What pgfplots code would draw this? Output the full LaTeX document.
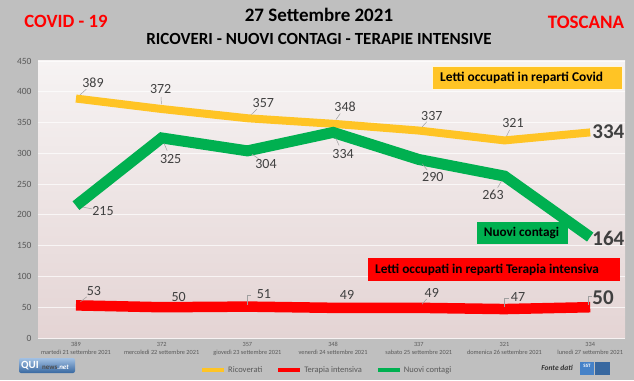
\documentclass[border=0pt]{standalone}
\usepackage{fontspec}
\setmainfont{Carlito}
\usepackage{pgfplots}
\pgfplotsset{compat=1.18}
\definecolor{bg}{RGB}{191,191,191}
\definecolor{cyel}{RGB}{255,196,37}
\definecolor{cred}{RGB}{255,0,0}
\definecolor{cgreen}{RGB}{0,176,80}
\definecolor{ctxt}{RGB}{64,64,64}
\definecolor{ctick}{RGB}{89,89,89}
\definecolor{bgtop}{RGB}{246,243,243}
\definecolor{bgmid}{RGB}{220,200,200}
\definecolor{bgbot}{RGB}{228,212,212}
\definecolor{qblue}{RGB}{70,130,200}
\begin{document}
\begin{tikzpicture}[x=1pt,y=1pt,
  lbl/.style={font=\fontsize{14}{16}\selectfont, text=ctxt, inner sep=0pt},
  blbl/.style={font=\bfseries\fontsize{21}{24}\selectfont, text=ctxt, inner sep=0pt, anchor=west},
  ld/.style={draw=gray!75, line width=0.5pt}]
\fill[bg] (0,0) rectangle (634,380);
\useasboundingbox (0,0) rectangle (634,380);
\begin{axis}[
  at={(38pt,42pt)}, anchor=south west,
  scale only axis, width=587pt, height=277pt,
  xmin=-0.443, xmax=6.406, ymin=0, ymax=450,
  axis line style={draw=none},
  axis background/.style={top color=bgtop, middle color=bgmid, bottom color=bgbot},
  ymajorgrids, major grid style={white, line width=0.8pt, opacity=0.7},
  major tick length=0pt,
  ytick={0,50,...,450},
  /pgf/number format/assume math mode=true,
  yticklabel style={font=\fontsize{9.5}{11}\selectfont, text=ctick, xshift=-3pt},
  xtick={0,...,6},
  xticklabels={{389\\martedì 21 settembre 2021},{372\\mercoledì 22 settembre 2021},{357\\giovedì 23 settembre 2021},{348\\venerdì 24 settembre 2021},{337\\sabato 25 settembre 2021},{321\\domenica 26 settembre 2021},{334\\lunedì 27 settembre 2021}},
  xticklabel style={font=\fontsize{6.3}{8}\selectfont, text=ctick, align=center, yshift=-1pt},
  legend columns=3,
  legend style={at={(axis description cs:0.276,-0.1155)}, anchor=west, draw=none, fill=none, inner sep=0pt,
    font=\fontsize{8.5}{10}\selectfont, text=ctick, /tikz/every even column/.append style={column sep=12pt}},
  legend image code/.code={\draw[#1, line width=4pt] (0pt,0pt) -- (22pt,0pt);},
  clip=false,
]
\addplot[cyel, line width=8pt, line join=round] coordinates {(0,389)(1,372)(2,357)(3,348)(4,337)(5,321)(6,334)};
\addlegendentry{Ricoverati}
\addplot[cred, line width=10.5pt, line join=round] coordinates {(0,53)(1,50)(2,51)(3,49)(4,49)(5,47)(6,50)};
\addlegendentry{Terapia intensiva}
\addplot[cgreen, line width=11pt, line join=miter] coordinates {(0,215)(1,325)(2,304)(3,334)(4,290)(5,263)(6,164)};
\addlegendentry{Nuovi contagi}
% leader lines
\draw[ld] (axis cs:0,389) ++(4.3pt,3.9pt) -- ++(6pt,5.4pt);
\draw[ld] (axis cs:1,372) ++(-0.3pt,5pt) -- ++(-0.3pt,7pt);
\draw[ld] (axis cs:2,357) ++(4pt,3.8pt) -- ++(5.6pt,5.3pt);
\draw[ld] (axis cs:3,348) ++(3pt,4.3pt) -- ++(4.2pt,6pt);
\draw[ld] (axis cs:4,337) ++(3.3pt,3.6pt) -- ++(4.6pt,5.1pt);
\draw[ld] (axis cs:5,321) ++(2.1pt,4.4pt) -- ++(3pt,6.1pt);
\draw[ld] (axis cs:0,215) ++(6.8pt,-1.4pt) -- ++(9.5pt,-1.9pt);
\draw[ld] (axis cs:1,325) ++(2.3pt,-5.3pt) -- ++(3.2pt,-7.4pt);
\draw[ld] (axis cs:2,304) ++(4.7pt,-3.3pt) -- ++(6.5pt,-4.6pt);
\draw[ld] (axis cs:3,334) ++(2.5pt,-5.4pt) -- ++(3.5pt,-7.6pt);
\draw[ld] (axis cs:4,290) ++(3.5pt,-4.4pt) -- ++(4.9pt,-6.1pt);
\draw[ld] (axis cs:5,263) ++(-2.9pt,-4.8pt) -- ++(-4pt,-6.7pt);
\draw[ld] (axis cs:0,53) ++(4.5pt,3.6pt) -- ++(6.3pt,5pt);
\draw[ld] (axis cs:2,51) ++(0pt,2pt) -- ++(0pt,9pt) -- ++(4pt,0pt);
\draw[ld] (axis cs:4,49) ++(3.3pt,3.7pt) -- ++(4.6pt,5.2pt);
\draw[ld] (axis cs:5,47) ++(0pt,2pt) -- ++(0pt,9pt) -- ++(4pt,0pt);
\draw[ld] (axis cs:6,50) ++(-2pt,2pt) -- ++(0pt,9pt) -- ++(4pt,0pt);
% yellow labels
\node[lbl, xshift=17pt, yshift=15.5pt] at (axis cs:0,389) {389};
\node[lbl, xshift=-1pt, yshift=20pt] at (axis cs:1,372) {372};
\node[lbl, xshift=16pt, yshift=15pt] at (axis cs:2,357) {357};
\node[lbl, xshift=12pt, yshift=17pt] at (axis cs:3,348) {348};
\node[lbl, xshift=13pt, yshift=14.5pt] at (axis cs:4,337) {337};
\node[lbl, xshift=8.5pt, yshift=17.4pt] at (axis cs:5,321) {321};
\node[blbl, xshift=2pt, yshift=1pt] at (axis cs:6,334) {334};
% green labels
\node[lbl, xshift=27pt, yshift=-5.4pt] at (axis cs:0,215) {215};
\node[lbl, xshift=9pt, yshift=-21pt] at (axis cs:1,325) {325};
\node[lbl, xshift=18.6pt, yshift=-13pt] at (axis cs:2,304) {304};
\node[lbl, xshift=10pt, yshift=-21.6pt] at (axis cs:3,334) {334};
\node[lbl, xshift=14pt, yshift=-17.5pt] at (axis cs:4,290) {290};
\node[lbl, xshift=-11.5pt, yshift=-19pt] at (axis cs:5,263) {263};
\node[blbl, xshift=2pt, yshift=-1pt] at (axis cs:6,164) {164};
% red labels
\node[lbl, xshift=18pt, yshift=14.4pt] at (axis cs:0,53) {53};
\node[lbl, xshift=17pt, yshift=10pt] at (axis cs:1,50) {50};
\node[lbl, xshift=16.6pt, yshift=12.6pt] at (axis cs:2,51) {51};
\node[lbl, xshift=14pt, yshift=12.8pt] at (axis cs:3,49) {49};
\node[lbl, xshift=13pt, yshift=14.8pt] at (axis cs:4,49) {49};
\node[lbl, xshift=13.5pt, yshift=12pt] at (axis cs:5,47) {47};
\node[blbl, xshift=2pt, yshift=10pt] at (axis cs:6,50) {50};
\end{axis}
% annotation boxes
\fill[cyel, draw=white!85!cyel, line width=0.6pt] (432,291) rectangle (622,314);
\node[anchor=west, inner sep=0pt, font=\bfseries\fontsize{13.4}{15}\selectfont] at (440,302.5) {Letti occupati in reparti Covid};
\fill[cgreen] (477,136) rectangle (568,158);
\node[inner sep=0pt, font=\bfseries\fontsize{13.2}{15}\selectfont] at (521.5,147) {Nuovi contagi};
\fill[cred] (368,99) rectangle (620,122);
\node[anchor=west, inner sep=0pt, font=\bfseries\fontsize{13.3}{15}\selectfont] at (375,110.5) {Letti occupati in reparti Terapia intensiva};
% titles
\node[font=\bfseries\fontsize{19}{21}\selectfont] at (319,365.5) {27 Settembre 2021};
\node[font=\bfseries\fontsize{17}{19}\selectfont] at (319,341) {RICOVERI - NUOVI CONTAGI - TERAPIE INTENSIVE};
\node[font=\bfseries\fontsize{18.7}{20}\selectfont, text=cred] at (66,359) {COVID - 19};
\node[font=\bfseries\fontsize{19}{21}\selectfont, text=cred] at (586,358) {TOSCANA};
% logos
\shade[top color=qblue!50!white, bottom color=qblue!80!black, rounded corners=2pt] (19,7) rectangle (75,22);
\node[anchor=west, inner sep=0pt, font=\bfseries\fontsize{11}{12}\selectfont, text=white] at (21,14.5) {QUI};
\node[anchor=west, inner sep=0pt, font=\bfseries\fontsize{7}{8}\selectfont, text=black!70] at (42,13) {news\textit{\color{white}.net}};
\node[inner sep=0pt, font=\bfseries\itshape\fontsize{7.5}{9}\selectfont, text=black!80] at (557,12) {Fonte dati};
\fill[qblue] (580,5) rectangle (594,18);
\fill[qblue!80!black] (595,5) rectangle (610,18);
\node[inner sep=0pt, font=\bfseries\fontsize{5}{6}\selectfont, text=white] at (587,14) {SST};
\end{tikzpicture}
\end{document}
